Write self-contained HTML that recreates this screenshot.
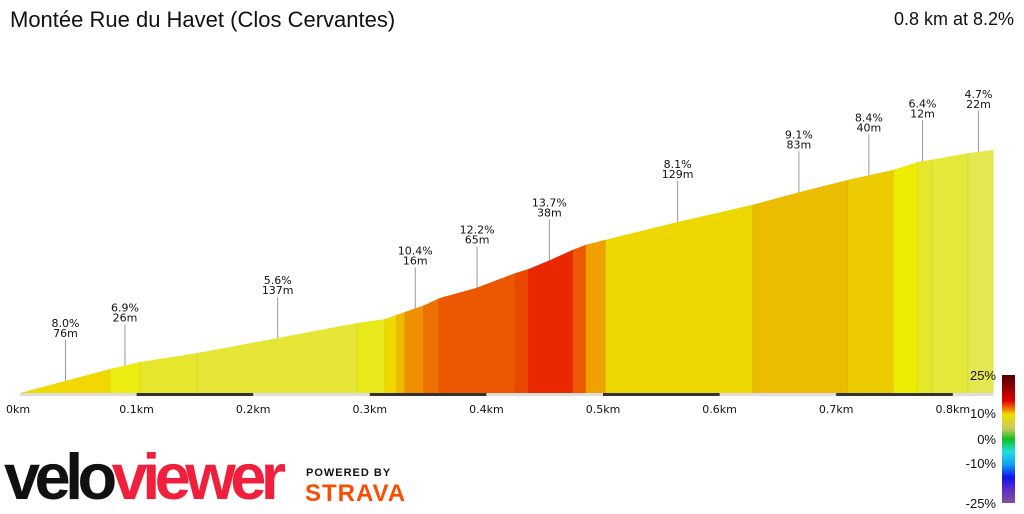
<!DOCTYPE html>
<html><head><meta charset="utf-8"><style>
body{margin:0;width:1024px;height:512px;background:#fff;overflow:hidden;font-family:"Liberation Sans",sans-serif;position:relative}
.t{position:absolute;white-space:nowrap}
</style></head><body>
<div class="t" style="left:10px;top:7px;font-size:22px;color:#111">Montée Rue du Havet (Clos Cervantes)</div>
<div class="t" style="right:10px;top:9px;font-size:18px;color:#111">0.8 km at 8.2%</div>
<svg id="chart" width="1024" height="512" style="position:absolute;left:0;top:0" font-family="DejaVu Sans, Liberation Sans, sans-serif"></svg>
<div class="t" style="left:4px;top:439px;font-size:65px;font-weight:900;letter-spacing:-5.6px;font-family:'Liberation Sans',sans-serif"><span style="color:#111">velo</span><span style="color:#f0203c">viewer</span></div>
<div class="t" style="left:306px;top:467px;font-size:11px;font-weight:bold;letter-spacing:1px;color:#111">POWERED BY</div>
<div class="t" style="left:305px;top:480px;font-size:24px;font-weight:900;color:#fc4c02;letter-spacing:1px">STRAVA</div>
<script>
const distKm=[0,.077,.103,.152,.221,.289,.313,.330,.347,.360,.391,.425,.436,.455,.474,.485,.502,.564,.628,.669,.710,.749,.770,.785,.813,.835];
const elevM=[0,6.7,8.7,11.2,15.4,19.6,20.7,22.7,24.6,26.6,29.4,33.6,34.7,37.3,40.1,41.5,42.9,47.9,52.7,56.3,59.7,62.5,64.7,65.5,67.2,68.1];
const segStart=[0,.077,.103,.152,.289,.313,.323,.330,.346,.359,.425,.436,.474,.485,.502,.628,.710,.749,.770,.782,.813];
const segColor=["#f0d800","#ecec10","#e6e62c","#e6e636","#e8e81a","#f0d800","#f0b800","#f09000","#ee7000","#ec5800","#ea4800","#ea2800","#ee5800","#f0a000","#ecd800","#ecbc00","#eccc00","#ecec00","#e6e62a","#e4e838","#e4e850"];
const labelKm=[.039,.090,.221,.339,.392,.454,.564,.668,.728,.774,.822];
const labelGrade=["8.0%","6.9%","5.6%","10.4%","12.2%","13.7%","8.1%","9.1%","8.4%","6.4%","4.7%"];
const labelLen=["76m","26m","137m","16m","65m","38m","129m","83m","40m","12m","22m"];
const tickKm=[0,.1,.2,.3,.4,.5,.6,.7,.8];
const tickLabels=["0km","0.1km","0.2km","0.3km","0.4km","0.5km","0.6km","0.7km","0.8km"];
const legendVals=[25,10,0,-10,-25];
const legendLabels=["25%","10%","0%","-10%","-25%"];

const NS="http://www.w3.org/2000/svg",svg=document.getElementById('chart');
const x=d=>20+d*1166, y=e=>393-e*3.57;
const maxKm=distKm[distKm.length-1];
function elevAt(d){for(let i=1;i<distKm.length;i++){if(d<=distKm[i]){const t=(d-distKm[i-1])/(distKm[i]-distKm[i-1]);return elevM[i-1]+t*(elevM[i]-elevM[i-1]);}}return elevM[elevM.length-1];}
function mk(tag,attrs){const e=document.createElementNS(NS,tag);for(const k in attrs)e.setAttribute(k,attrs[k]);svg.appendChild(e);return e;}
let pts=distKm.map((d,i)=>x(d)+','+y(elevM[i])).join(' ');
const defs=mk('defs',{});
const cp=document.createElementNS(NS,'clipPath');cp.setAttribute('id','prof');defs.appendChild(cp);
const poly=document.createElementNS(NS,'polygon');poly.setAttribute('points',pts+' '+x(maxKm)+',393 '+x(0)+',393');cp.appendChild(poly);
const g=mk('g',{'clip-path':'url(#prof)'});


segStart.forEach((s,i)=>{const e2=i<segStart.length-1?segStart[i+1]:maxKm;const r=document.createElementNS(NS,'rect');
r.setAttribute('x',x(s));r.setAttribute('y',100);r.setAttribute('width',x(e2)-x(s)+0.5);r.setAttribute('height',300);r.setAttribute('fill',segColor[i]);


g.appendChild(r);
if(i>0){const l=document.createElementNS(NS,'line');l.setAttribute('x1',x(s));l.setAttribute('x2',x(s));l.setAttribute('y1',100);l.setAttribute('y2',393);l.setAttribute('stroke','rgba(0,0,0,0.06)');g.appendChild(l);}});
const ab=mk('rect',{x:x(0),y:393,width:x(maxKm)-x(0),height:3,fill:'#ddd'});


for(let i=1;i<tickKm.length;i+=2){const r=mk('rect',{x:x(tickKm[i]),y:393,width:x(tickKm[i+1])-x(tickKm[i]),height:3,fill:'#333'});

}
tickKm.forEach((k,i)=>{const t=mk('text',{x:x(k)-(i==0?2:0),y:413,'font-size':11,'text-anchor':'middle',fill:'#111'});t.textContent=tickLabels[i];

});
labelKm.forEach((k,i)=>{const py=y(elevAt(k)),ty=py-63;
const l=mk('line',{x1:x(k),x2:x(k),y1:ty+22,y2:py,stroke:'#999','stroke-width':1});


const t=mk('text',{x:x(k),y:ty+9,'font-size':11,'text-anchor':'middle',fill:'#111'});t.textContent=labelGrade[i];


const t2=mk('text',{x:x(k),y:ty+19,'font-size':11,'text-anchor':'middle',fill:'#111'});t2.textContent=labelLen[i];

});
const lg=document.createElementNS(NS,'linearGradient');lg.setAttribute('id','lg');lg.setAttribute('x1',0);lg.setAttribute('x2',0);lg.setAttribute('y1',0);lg.setAttribute('y2',1);defs.appendChild(lg);
[[0,'#500000'],[.12,'#a00000'],[.2,'#e00000'],[.26,'#f07000'],[.31,'#f0e000'],[.42,'#c8c860'],[.5,'#10c020'],[.6,'#20e0e0'],[.7,'#10a0f0'],[.8,'#1010f0'],[.9,'#6030c0'],[1,'#8050a0']].forEach(s=>{const st=document.createElementNS(NS,'stop');st.setAttribute('offset',s[0]);st.setAttribute('stop-color',s[1]);lg.appendChild(st);});
const lr=mk('rect',{x:1002,y:375,width:13,height:128,fill:'url(#lg)'});


const ly=v=>v>=10?413-(v-10)/15*38:(v>=0?439-v*2.6:(v>=-10?439-v*2.4:463+(-v-10)/15*40));
legendVals.forEach((v,i)=>{const t=mk('text',{x:996,y:ly(v)+5,'font-size':13,'text-anchor':'end',fill:'#111','font-family':'Liberation Sans, sans-serif'});
t.textContent=legendLabels[i];

});
</script>
</body></html>
